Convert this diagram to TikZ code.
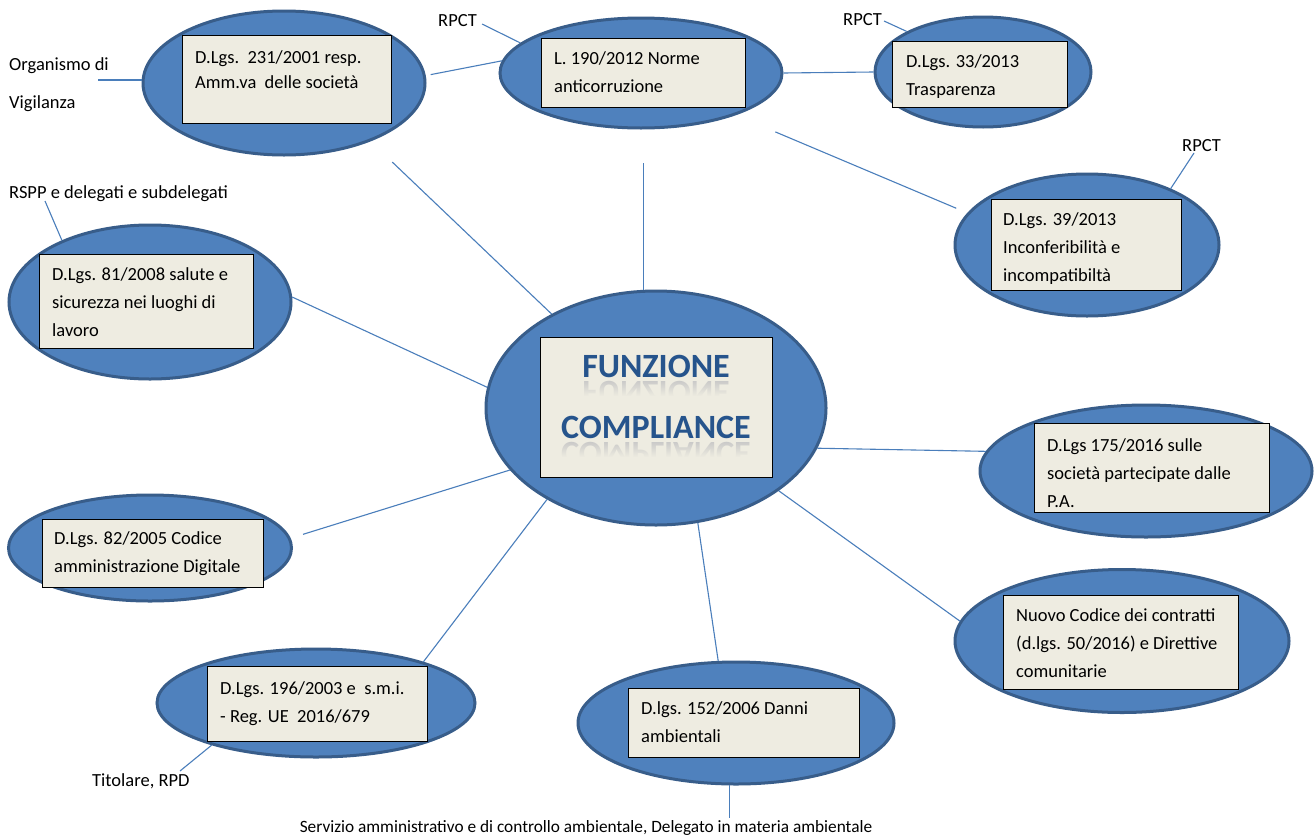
\documentclass[tikz,border=0pt]{standalone}
\usepackage{fontspec}
\setmainfont{Carlito}
\usetikzlibrary{shapes.geometric,fadings,calc}
\definecolor{ellfill}{RGB}{79,129,189}
\definecolor{ellborder}{RGB}{56,93,138}
\definecolor{boxfill}{RGB}{238,236,225}
\definecolor{connblue}{RGB}{74,126,187}
\definecolor{titleblue}{RGB}{38,84,140}
\newcommand\myfont{\fontsize{18.5}{28}\selectfont}
\newcommand\mystrut{\rule{0pt}{14pt}}
\newcommand\titlefont{\fontsize{34}{40}\selectfont\bfseries}
\begin{document}
\begin{tikzpicture}[x=1pt,y=-1pt,
  ell/.style={ellipse, draw=ellborder, fill=ellfill, line width=3pt, inner sep=0pt},
  lawbox/.style={draw=black, fill=boxfill, line width=1.2pt, inner sep=0pt, anchor=north west},
  txt/.style={anchor=north west, inner sep=0pt, align=left, font=\myfont},
  lbl/.style={anchor=north west, inner sep=0pt, align=left, font=\myfont},
  conn/.style={draw=connblue, line width=1.1pt},
  ttl/.style={font=\titlefont, text=titleblue, anchor=base, inner sep=0pt},
  refl/.style={font=\titlefont, text=gray!45, anchor=base, inner sep=0pt, yscale=-1}]
\useasboundingbox[fill=white] (0,0) rectangle (1316,838);

% ellipses
\node[ell, minimum width=282pt, minimum height=144pt] (eA) at (284,83) {};
\node[ell, minimum width=282pt, minimum height=110pt] (eB) at (641,73) {};
\node[ell, minimum width=216pt, minimum height=110pt] (eC) at (983,72) {};
\node[ell, minimum width=264pt, minimum height=142pt] (eD) at (1087,245) {};
\node[ell, minimum width=282pt, minimum height=154pt] (eE) at (150,302) {};
\node[ell, minimum width=283pt, minimum height=106pt] (eF) at (150,548) {};
\node[ell, minimum width=340pt, minimum height=234pt] (eG) at (656,408) {};
\node[ell, minimum width=332pt, minimum height=132pt] (eH) at (1146,471) {};
\node[ell, minimum width=334pt, minimum height=143pt] (eI) at (1122,641) {};
\node[ell, minimum width=318pt, minimum height=108pt] (eJ) at (316,703) {};
\node[ell, minimum width=316pt, minimum height=122pt] (eK) at (736,723) {};

% boxes
\node[lawbox, minimum width=209pt, minimum height=88pt] (bA) at (182,35) {};
\node[lawbox, minimum width=204pt, minimum height=69pt] (bB) at (541,38) {};
\node[lawbox, minimum width=175pt, minimum height=66pt] (bC) at (892,41) {};
\node[lawbox, minimum width=190pt, minimum height=91pt] (bD) at (991,199) {};
\node[lawbox, minimum width=214pt, minimum height=94pt] (bE) at (39,254) {};
\node[lawbox, minimum width=221pt, minimum height=68pt] (bF) at (42,519) {};
\node[lawbox, minimum width=232pt, minimum height=140pt] (bG) at (540,337) {};
\node[lawbox, minimum width=235pt, minimum height=89pt] (bH) at (1034,423) {};
\node[lawbox, minimum width=235pt, minimum height=94pt] (bI) at (1003,595) {};
\node[lawbox, minimum width=220pt, minimum height=75pt] (bJ) at (207,666) {};
\node[lawbox, minimum width=231pt, minimum height=69pt] (bK) at (628,688) {};

% box texts
\node[txt, font=\fontsize{18.5}{25}\selectfont] (tA) at ($(bA.north west)+(13,14)$) {\mystrut D.Lgs.~~231/2001 resp.\\Amm.va~~delle società};
\node[txt] (tB) at ($(bB.north west)+(13,12)$) {\mystrut L. 190/2012 Norme\\anticorruzione};
\node[txt] (tC) at ($(bC.north west)+(14,12)$) {\mystrut D.Lgs. 33/2013\\Trasparenza};
\node[txt] (tD) at ($(bD.north west)+(12,12)$) {\mystrut D.Lgs. 39/2013\\Inconferibilità e\\incompatibiltà};
\node[txt] (tE) at ($(bE.north west)+(13,12)$) {\mystrut D.Lgs. 81/2008 salute e\\sicurezza nei luoghi di\\lavoro};
\node[txt] (tF) at ($(bF.north west)+(12,11)$) {\mystrut D.Lgs. 82/2005 Codice\\amministrazione Digitale};
\node[txt] (tH) at ($(bH.north west)+(13,14)$) {\mystrut D.Lgs 175/2016 sulle\\società partecipate dalle\\P.A.};
\node[txt] (tI) at ($(bI.north west)+(13,12)$) {\mystrut Nuovo Codice dei contratti\\(d.lgs. 50/2016) e Direttive\\comunitarie};
\node[txt] (tJ) at ($(bJ.north west)+(13,14)$) {\mystrut D.Lgs. 196/2003 e~~s.m.i.\\- Reg. UE~~2016/679};
\node[txt] (tK) at ($(bK.north west)+(13,12)$) {\mystrut D.lgs. 152/2006 Danni\\ambientali};

% title with reflection
\begin{scope}
  \clip (545,380) rectangle (770,395);
  \node[refl] (rA) at (656,381) {FUNZIONE};
\end{scope}
\begin{scope}
  \clip (545,441) rectangle (770,456);
  \node[refl] (rB) at (656,442) {COMPLIANCE};
\end{scope}
\fill[boxfill, path fading=north] (545,379) rectangle (770,396);
\fill[boxfill, path fading=north] (545,440) rectangle (770,457);
\node[ttl] (tG1) at (656,377) {FUNZIONE};
\node[ttl] (tG2) at (656,438) {COMPLIANCE};

% outside labels
\node[lbl, font=\fontsize{18.5}{38}\selectfont] (org) at (9,56) {\mystrut Organismo di\\Vigilanza};
\node[lbl] (rspp) at (9,184) {\mystrut RSPP e delegati e subdelegati};
\node[lbl] (rpA) at (438,12) {\mystrut RPCT};
\node[lbl] (rpB) at (843,11) {\mystrut RPCT};
\node[lbl] (rpC) at (1182,137) {\mystrut RPCT};
\node[lbl] (tit) at (92,772) {\mystrut Titolare, RPD};
\node[lbl, anchor=north, font=\fontsize{17.3}{24}\selectfont] (serv) at (586,818) {\mystrut Servizio amministrativo e di controllo ambientale, Delegato in materia ambientale};

% free ends of label connectors
\coordinate (orgEnd) at (98,80);
\coordinate (rsppEnd) at (45,201);
\coordinate (rpAEnd) at (482,24);
\coordinate (rpBEnd) at (884,21);
\coordinate (rpCEnd) at (1194,153);
\coordinate (titEnd) at (180,771);

% connectors
\draw[conn] (orgEnd) -- (eA.west |- orgEnd);
\draw[conn] (rpAEnd) -- (eB.166.7);
\draw[conn] (rpBEnd) -- (eC.152.8);
\draw[conn] (rpCEnd) -- (eD.34.7);
\draw[conn] (rsppEnd) -- (eE.145.9);
\draw[conn] (titEnd) -- (eJ.202);
\draw[conn] (eK.264.4) -- (eK.264.4 |- serv.north);
\draw[conn, shorten >=5pt] (eB.175) -- (eA.3);
\draw[conn] (eB.east) -- (eC.west);
\draw[conn, shorten <=43pt, shorten >=12pt] (eB.-24.6) -- (eD.165.4);
\draw[conn, shorten >=30pt] (eG.138.5) -- (eA.-34.5);
\draw[conn, shorten >=33pt] (eG.96.4) -- (eG.96.4 |- eB.south);
\draw[conn] (eG.173.5) -- (eE.2.4);
\draw[conn, shorten >=13pt] (eG.203.3) -- (eF.4.5);
\draw[conn] (eG.220.7) -- (eJ.21.9);
\draw[conn] (eG.290.6) -- (eK.106.7);
\draw[conn] (eG.-34.8) -- (eI.173.7);
\draw[conn] (eG.-14.8) -- (eH.173.3);
\end{tikzpicture}
\end{document}
